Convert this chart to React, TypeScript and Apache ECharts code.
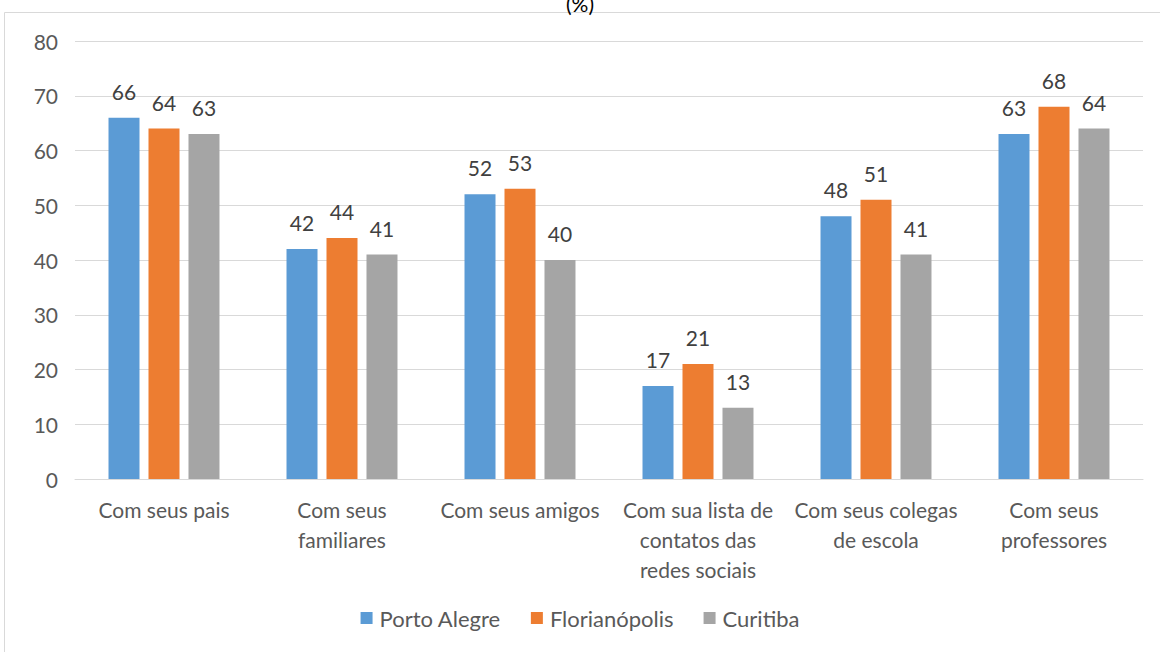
import React, { useEffect, useRef } from "react";
import * as echarts from "echarts";

const categories = [
  "Com seus pais",
  "Com seus\nfamiliares",
  "Com seus amigos",
  "Com sua lista de\ncontatos das\nredes sociais",
  "Com seus colegas\nde escola",
  "Com seus\nprofessores",
];
const portoAlegre = [66, 42, 52, 17, 48, 63];
const florianopolis = [64, 44, 53, 21, 51, 68];
const curitiba = [63, 41, 40, 13, 41, 64];
const yTicks = { min: 0, max: 80, interval: 10 };

const FONT = "Lato, 'Open Sans', sans-serif";
const FS = 21;

export default function App() {
  const ref = useRef<HTMLDivElement>(null);

  useEffect(() => {
    document.body.style.margin = "0";
    if (!ref.current) return;
    const chart = echarts.init(ref.current, undefined, { renderer: "svg" });

    const mkSeries = (name: string, data: number[], color: string) => ({
      name,
      type: "bar",
      data,
      barWidth: 31,
      barGap: "29%",
      itemStyle: { color },
      label: {
        show: true,
        position: "top",
        distance: 16,
        color: "#404040",
        fontSize: FS,
        fontFamily: FONT,
      },
    });

    chart.setOption({
      animation: false,
      textStyle: { fontFamily: FONT },
      title: {
        text: "(%)",
        left: "center",
        top: -12,
        textStyle: { fontSize: 21, fontWeight: "normal", color: "#000", fontFamily: FONT },
      },
      graphic: [
        {
          type: "rect",
          shape: { x: 4.5, y: 12.5, width: 1200, height: 700 },
          style: { fill: "none", stroke: "#d9d9d9", lineWidth: 1 },
          silent: true,
        },
      ],
      grid: { left: 75, right: 17, top: 41, bottom: 173, containLabel: false },
      legend: {
        bottom: 18,
        left: "center",
        itemWidth: 12,
        itemHeight: 12,
        itemGap: 30,
        icon: "rect",
        textStyle: { fontSize: 22, color: "#595959", fontFamily: FONT, padding: [0, 0, 0, 2] },
      },
      xAxis: {
        type: "category",
        data: categories,
        axisLine: { lineStyle: { color: "#d9d9d9", width: 1 } },
        axisTick: { show: false },
        axisLabel: {
          interval: 0,
          fontSize: FS,
          color: "#595959",
          lineHeight: 30,
          margin: 15,
          fontFamily: FONT,
        },
      },
      yAxis: {
        type: "value",
        min: yTicks.min,
        max: yTicks.max,
        interval: yTicks.interval,
        axisLine: { show: false },
        axisTick: { show: false },
        splitLine: { lineStyle: { color: "#d9d9d9", width: 1 } },
        axisLabel: { fontSize: FS, color: "#595959", margin: 17, fontFamily: FONT },
      },
      series: [
        mkSeries("Porto Alegre", portoAlegre, "#5B9BD5"),
        mkSeries("Florianópolis", florianopolis, "#ED7D31"),
        mkSeries("Curitiba", curitiba, "#A5A5A5"),
      ],
    });

    return () => chart.dispose();
  }, []);

  return <div ref={ref} style={{ width: 1160, height: 652 }} />;
}
